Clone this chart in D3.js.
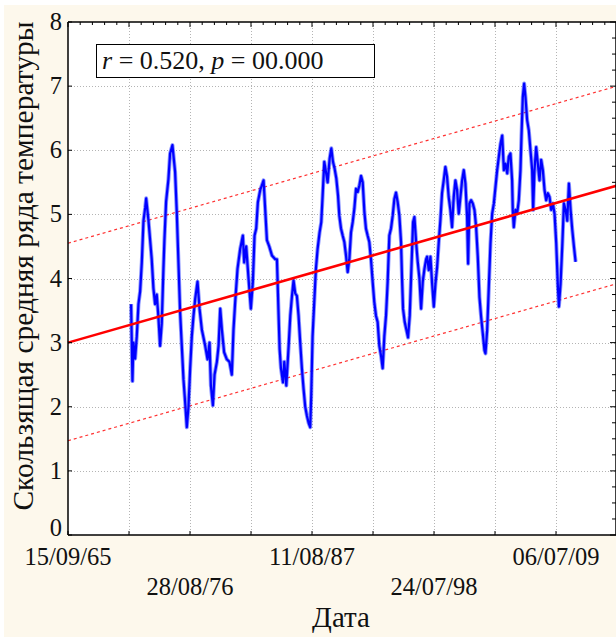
<!DOCTYPE html>
<html>
<head>
<meta charset="utf-8">
<script src="https://cdn.jsdelivr.net/npm/d3@7"></script>
<style>
  body { margin: 0; background: #fff; }
  text { font-family: "Liberation Serif", "Times New Roman", serif; fill: #111; }
</style>
</head>
<body>
<div id="chart"></div>
<script>
// moving average of temperature series (decimal year, value)
var years = [1971.37, 1971.49, 1971.58, 1971.73, 1971.88, 1972.03, 1972.18, 1972.33, 1972.48, 1972.63,
  1972.72, 1972.93, 1973.22, 1973.37, 1973.52, 1973.67, 1973.82, 1973.97, 1974.12, 1974.27,
  1974.36, 1974.51, 1974.72, 1974.87, 1975.08, 1975.32, 1975.47, 1975.62, 1975.77, 1975.92,
  1976.07, 1976.22, 1976.37, 1976.52, 1976.67, 1976.82, 1976.97, 1977.12, 1977.33, 1977.51,
  1977.72, 1978.02, 1978.23, 1978.41, 1978.53, 1978.71, 1978.86, 1979.07, 1979.22, 1979.37,
  1979.52, 1979.72, 1979.96, 1980.20, 1980.41, 1980.56, 1980.71, 1980.92, 1981.16, 1981.40,
  1981.52, 1981.70, 1981.91, 1982.12, 1982.30, 1982.45, 1982.60, 1982.75, 1982.96, 1983.26,
  1983.41, 1983.56, 1983.77, 1984.01, 1984.31, 1984.46, 1984.61, 1984.70, 1984.82, 1985.00,
  1985.12, 1985.30, 1985.51, 1985.66, 1985.81, 1985.95, 1986.10, 1986.25, 1986.40, 1986.55,
  1986.70, 1986.85, 1987.00, 1987.15, 1987.30, 1987.45, 1987.54, 1987.66, 1987.81, 1987.96,
  1988.11, 1988.29, 1988.44, 1988.56, 1988.71, 1988.86, 1989.01, 1989.19, 1989.34, 1989.49,
  1989.64, 1989.79, 1989.94, 1990.06, 1990.21, 1990.36, 1990.51, 1990.66, 1990.81, 1990.96,
  1991.11, 1991.26, 1991.41, 1991.56, 1991.71, 1991.86, 1992.01, 1992.16, 1992.31, 1992.45,
  1992.60, 1992.75, 1992.90, 1993.05, 1993.20, 1993.35, 1993.50, 1993.65, 1993.80, 1993.95,
  1994.10, 1994.25, 1994.40, 1994.55, 1994.70, 1994.85, 1995.00, 1995.15, 1995.30, 1995.45,
  1995.60, 1995.69, 1995.78, 1995.93, 1996.08, 1996.23, 1996.38, 1996.53, 1996.68, 1996.80,
  1996.95, 1997.10, 1997.25, 1997.40, 1997.55, 1997.70, 1997.85, 1997.94, 1998.09, 1998.24,
  1998.39, 1998.54, 1998.69, 1998.84, 1998.98, 1999.13, 1999.28, 1999.43, 1999.58, 1999.73,
  1999.88, 2000.03, 2000.18, 2000.33, 2000.48, 2000.63, 2000.78, 2000.93, 2001.08, 2001.23,
  2001.38, 2001.53, 2001.62, 2001.74, 2001.89, 2002.04, 2002.19, 2002.34, 2002.49, 2002.64,
  2002.79, 2002.94, 2003.09, 2003.18, 2003.33, 2003.48, 2003.63, 2003.78, 2003.93, 2004.08,
  2004.23, 2004.38, 2004.53, 2004.68, 2004.83, 2004.98, 2005.13, 2005.27, 2005.42, 2005.57,
  2005.63, 2005.72, 2005.87, 2006.02, 2006.17, 2006.32, 2006.41, 2006.53, 2006.65, 2006.77,
  2006.92, 2007.07, 2007.22, 2007.37, 2007.46, 2007.58, 2007.73, 2007.88, 2008.03, 2008.18,
  2008.33, 2008.48, 2008.63, 2008.78, 2008.93, 2009.08, 2009.23, 2009.38, 2009.53, 2009.68,
  2009.77, 2009.92, 2010.07, 2010.22, 2010.37, 2010.52, 2010.67, 2010.82, 2010.97, 2011.12,
  2011.27];

var temps = [3.6, 2.4, 3.0, 2.75, 3.1, 3.6, 3.8, 4.25, 4.9, 5.1,
  5.25, 4.9, 4.3, 3.85, 3.6, 3.75, 3.4, 2.95, 3.3, 4.15,
  4.6, 5.2, 5.55, 5.95, 6.08, 5.66, 5.03, 4.25, 3.47, 2.95,
  2.43, 2.07, 1.68, 2.0, 2.6, 3.1, 3.42, 3.68, 3.95, 3.53,
  3.2, 2.95, 2.74, 3.0, 2.33, 2.02, 2.5, 2.7, 2.95, 3.53,
  3.2, 2.85, 2.74, 2.7, 2.5, 3.2, 3.63, 4.15, 4.46, 4.67,
  4.25, 4.5, 4.0, 3.53, 3.95, 4.67, 4.78, 5.19, 5.38, 5.53,
  5.07, 4.6, 4.5, 4.36, 4.3, 4.3, 3.42, 2.9, 2.6, 2.38,
  2.7, 2.33, 2.95, 3.42, 3.73, 3.97, 3.77, 3.73, 3.42, 3.0,
  2.6, 2.28, 2.0, 1.86, 1.75, 1.68, 2.18, 3.1, 3.63, 4.15,
  4.46, 4.72, 4.88, 5.29, 5.82, 5.66, 5.5, 5.87, 6.03, 5.82,
  5.71, 5.56, 5.3, 4.98, 4.78, 4.67, 4.57, 4.36, 4.1, 4.3,
  4.72, 4.88, 5.09, 5.4, 5.35, 5.45, 5.6, 5.5, 5.04, 4.78,
  4.67, 4.57, 4.3, 3.95, 3.63, 3.42, 3.32, 2.95, 2.8, 2.6,
  3.1, 3.42, 3.95, 4.67, 4.78, 4.98, 5.24, 5.34, 5.19, 4.98,
  4.57, 4.0, 3.53, 3.32, 3.2, 3.08, 3.42, 4.15, 4.88, 4.96,
  4.57, 4.25, 4.0, 3.53, 3.95, 4.15, 4.3, 4.34, 4.13, 4.34,
  3.92, 3.56, 3.92, 4.18, 4.55, 4.9, 5.33, 5.53, 5.74, 5.59,
  5.27, 5.07, 4.8, 5.27, 5.53, 5.38, 5.01, 5.27, 5.53, 5.69,
  5.48, 4.96, 4.23, 5.17, 5.22, 5.17, 5.07, 4.8, 4.34, 3.71,
  3.4, 3.14, 2.88, 2.83, 3.19, 3.87, 4.55, 5.01, 5.17, 5.43,
  5.69, 5.9, 6.1, 6.23, 5.69, 5.79, 5.64, 5.9, 5.95, 5.53,
  5.07, 4.8, 5.07, 5.01, 5.22, 5.69, 6.21, 6.83, 7.04, 6.83,
  6.47, 6.31, 6.0, 5.69, 5.07, 5.69, 6.05, 5.79, 5.53, 5.85,
  5.69, 5.38, 5.22, 5.33, 5.27, 5.07, 5.17, 5.01, 4.55, 3.87,
  3.56, 3.92, 4.5, 5.17, 5.07, 4.9, 5.48, 5.07, 4.76, 4.5,
  4.26];

// regression line and 95% band, values at the left and right edge of the axis
var trendEnds = [3.0, 5.45];
var upperEnds = [4.55, 7.0];
var lowerEnds = [1.47, 3.92];

var xStart = "1965-09-15";
var xStepDays = 2000;
var xTickCount = 9;
var xTickLabels = ["15/09/65", "28/08/76", "11/08/87", "24/07/98", "06/07/09"];
var yTicks = [0, 1, 2, 3, 4, 5, 6, 7, 8];

var yTitle = "Скользящая средняя ряда температуры";
var xTitle = "Дата";

var W = 616, H = 637;
var pLeft = 68, pTop = 22, pRight = 617, pBottom = 535;

function yearToDate(v) {
  var yr = Math.floor(v);
  var s = Date.UTC(yr, 0, 1), e = Date.UTC(yr + 1, 0, 1);
  return new Date(s + (v - yr) * (e - s));
}

var t0 = d3.utcParse("%Y-%m-%d")(xStart);
var t1 = d3.utcDay.offset(t0, xStepDays * xTickCount);

var x = d3.scaleUtc().domain([t0, t1]).range([pLeft, pRight]);
var y = d3.scaleLinear().domain([0, 8]).range([pBottom, pTop]);

var svg = d3.select("#chart").append("svg")
    .attr("width", W)
    .attr("height", H);

svg.append("rect")
    .attr("x", 4).attr("y", 5)
    .attr("width", W - 4).attr("height", H - 5)
    .attr("fill", "#fdf8ec");

svg.append("rect")
    .attr("x", pLeft).attr("y", pTop)
    .attr("width", pRight - pLeft).attr("height", pBottom - pTop)
    .attr("fill", "#fff");

var majorDates = d3.range(0, xTickCount + 1).map(function(i) {
  return d3.utcDay.offset(t0, i * xStepDays);
});

// grid
var grid = svg.append("g")
    .attr("stroke", "#b4b4b4")
    .attr("stroke-width", 1)
    .attr("stroke-dasharray", "1,2");

grid.selectAll("line.gx")
    .data(majorDates.slice(1, xTickCount))
    .enter().append("line")
        .attr("x1", function(d) { return Math.round(x(d)) + 0.5; })
        .attr("x2", function(d) { return Math.round(x(d)) + 0.5; })
        .attr("y1", pTop)
        .attr("y2", pBottom);

grid.selectAll("line.gy")
    .data(yTicks.slice(1, yTicks.length - 1))
    .enter().append("line")
        .attr("x1", pLeft)
        .attr("x2", pRight)
        .attr("y1", function(d) { return Math.round(y(d)) + 0.5; })
        .attr("y2", function(d) { return Math.round(y(d)) + 0.5; });

// bands and trend
function edgeLine(ends) {
  return [[t0, ends[0]], [t1, ends[1]]];
}
var straight = d3.line()
    .x(function(d) { return x(d[0]); })
    .y(function(d) { return y(d[1]); });

[upperEnds, lowerEnds].forEach(function(ends) {
  svg.append("path")
      .attr("d", straight(edgeLine(ends)))
      .attr("fill", "none")
      .attr("stroke", "#ff3030")
      .attr("stroke-width", 1.2)
      .attr("stroke-dasharray", "3,3");
});

// series
var series = years.map(function(yr, i) { return [yearToDate(yr), temps[i]]; });

svg.append("path")
    .attr("d", straight(series))
    .attr("fill", "none")
    .attr("stroke", "#2a3cff")
    .attr("stroke-width", 4)
    .attr("stroke-linejoin", "round")
    .attr("opacity", 0.55);

svg.append("path")
    .attr("d", straight(series))
    .attr("fill", "none")
    .attr("stroke", "#0000ff")
    .attr("stroke-width", 2.2)
    .attr("stroke-linejoin", "round");

svg.append("path")
    .attr("d", straight(edgeLine(trendEnds)))
    .attr("fill", "none")
    .attr("stroke", "#ff0000")
    .attr("stroke-width", 2.6);

// frame and ticks
var frame = svg.append("g").attr("stroke", "#000").attr("fill", "none");
frame.append("line").attr("x1", pLeft).attr("x2", pLeft).attr("y1", pTop).attr("y2", pBottom).attr("stroke-width", 1.5);
frame.append("line").attr("x1", pLeft).attr("x2", pRight).attr("y1", pBottom).attr("y2", pBottom).attr("stroke-width", 1.5);
frame.append("line").attr("x1", pLeft).attr("x2", pRight).attr("y1", pTop).attr("y2", pTop).attr("stroke-width", 1.5);
frame.append("line").attr("x1", pRight - 1).attr("x2", pRight - 1).attr("y1", pTop).attr("y2", pBottom).attr("stroke-width", 1.5);

frame.selectAll("line.ly")
    .data(yTicks)
    .enter().append("line")
        .attr("x1", pLeft).attr("x2", pLeft + 4)
        .attr("y1", function(d) { return y(d); })
        .attr("y2", function(d) { return y(d); });

frame.selectAll("line.ry")
    .data(d3.range(0, 8.01, 0.25))
    .enter().append("line")
        .attr("x1", pRight - 1).attr("x2", function(d) { return d % 1 === 0 ? pRight - 7 : pRight - 5; })
        .attr("y1", function(d) { return y(d); })
        .attr("y2", function(d) { return y(d); });

frame.selectAll("line.bx")
    .data(majorDates)
    .enter().append("line")
        .attr("x1", function(d) { return x(d); })
        .attr("x2", function(d) { return x(d); })
        .attr("y1", pBottom).attr("y2", pBottom - 4);

frame.selectAll("line.tx")
    .data(d3.range(0, xTickCount * 5 + 1).map(function(i) { return d3.utcDay.offset(t0, i * xStepDays / 5); }))
    .enter().append("line")
        .attr("x1", function(d) { return x(d); })
        .attr("x2", function(d) { return x(d); })
        .attr("y1", pTop).attr("y2", function(d, i) { return i % 5 === 0 ? pTop + 5 : pTop + 3; });

// tick labels (the 0 label sits a little higher, clear of the date labels)
svg.selectAll("text.yl")
    .data(yTicks)
    .enter().append("text")
        .attr("x", 62)
        .attr("y", function(d) { return d === 0 ? y(d) + 1 : y(d) + 8; })
        .attr("text-anchor", "end")
        .attr("font-size", 24.5)
        .text(function(d) { return d; });

svg.selectAll("text.xl")
    .data(xTickLabels)
    .enter().append("text")
        .attr("x", function(d, i) { return x(majorDates[i * 2]); })
        .attr("y", function(d, i) { return i % 2 === 0 ? 565 : 595; })
        .attr("text-anchor", "middle")
        .attr("font-size", 24.5)
        .text(function(d) { return d; });

svg.append("text")
    .attr("x", 341)
    .attr("y", 627)
    .attr("text-anchor", "middle")
    .attr("font-size", 29)
    .text(xTitle);

svg.append("text")
    .attr("transform", "translate(33," + 266 + ") rotate(-90)")
    .attr("text-anchor", "middle")
    .attr("font-size", 29.5)
    .text(yTitle);

// r, p annotation
svg.append("rect")
    .attr("x", 96.5).attr("y", 44.5)
    .attr("width", 278).attr("height", 33)
    .attr("fill", "#fff")
    .attr("stroke", "#000")
    .attr("stroke-width", 1);

var note = svg.append("text")
    .attr("x", 102)
    .attr("y", 69)
    .attr("font-size", 26);
note.append("tspan").attr("font-style", "italic").text("r");
note.append("tspan").text(" = 0.520, ");
note.append("tspan").attr("font-style", "italic").text("p");
note.append("tspan").text(" = 00.000");
</script>
</body>
</html>
